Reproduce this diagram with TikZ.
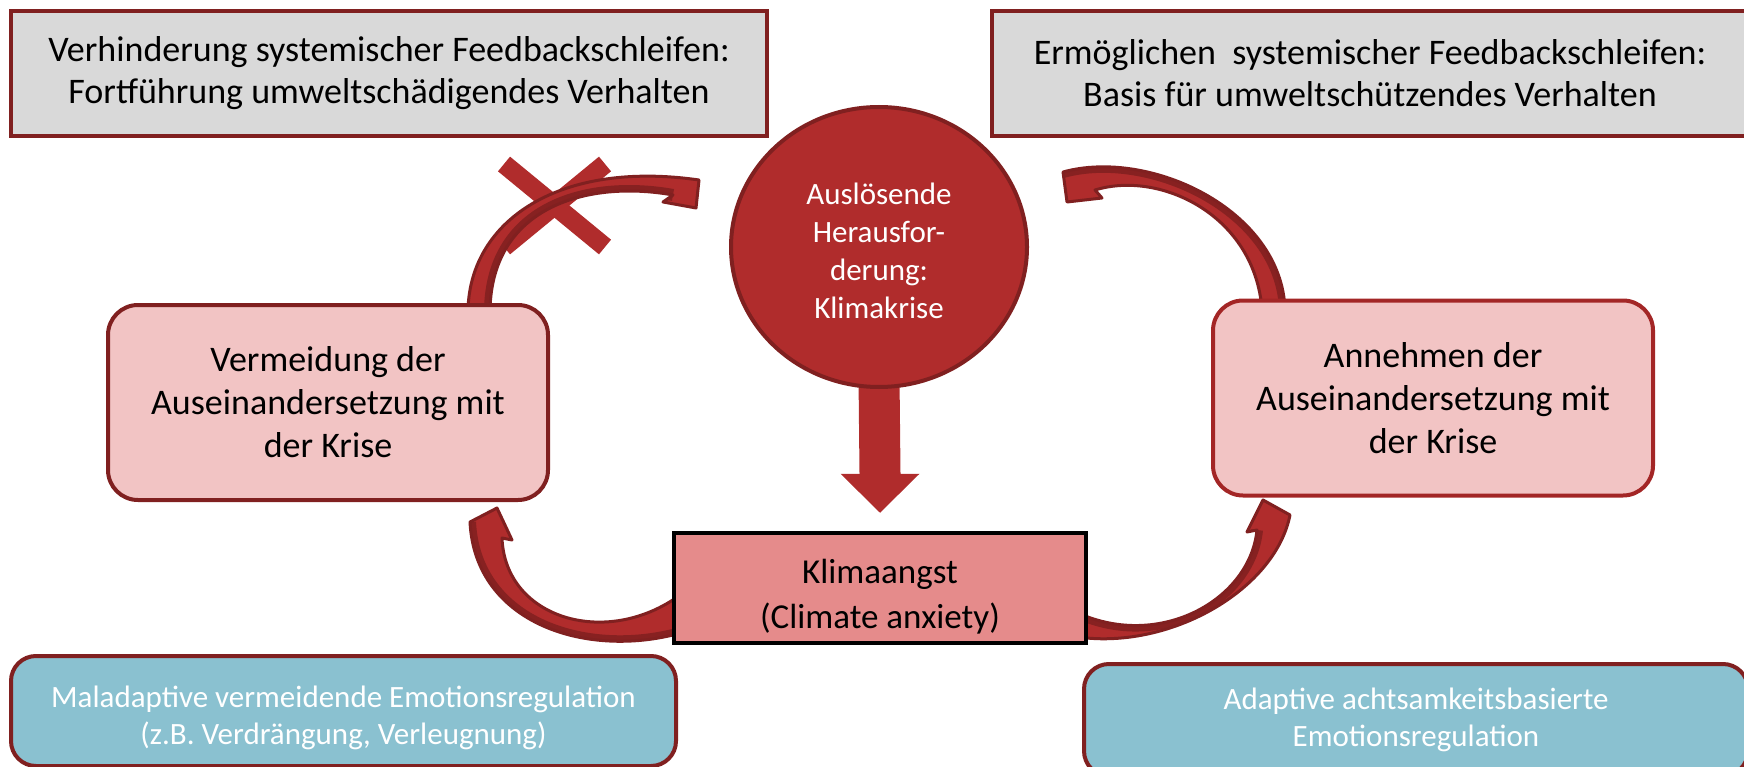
\documentclass[tikz,border=0pt]{standalone}
\usepackage{fontspec}
\setmainfont{Carlito}
\usetikzlibrary{shapes.geometric,calc}
\definecolor{brd}{RGB}{128,32,32}
\definecolor{brdb}{RGB}{163,38,38}
\definecolor{grayf}{RGB}{217,217,217}
\definecolor{redc}{RGB}{176,44,44}
\definecolor{redd}{RGB}{135,33,33}
\definecolor{pinkf}{RGB}{242,196,196}
\definecolor{kaf}{RGB}{229,139,139}
\definecolor{bluef}{RGB}{138,193,208}
\pgfdeclarelayer{bg}
\pgfsetlayers{bg,main}
\newcommand{\arrA}{(468,310) .. controls (470,220) and (560,160) .. (a1o) -- (a1t) -- (a1i) -- (a1n) .. controls (590,180) and (492,205) .. (490,310) -- cycle}
\newcommand{\arrB}{(a2o) .. controls (1150,148) and (1282,210) .. (1285,310) -- (1262,310) .. controls (1255,215) and (1160,170) .. (a2n) -- (a2i) -- (a2t) -- cycle}
\newcommand{\arrC}{(684,632) .. controls (590,660) and (475,625) .. (a3o) -- (a3t) -- (a3i) -- (a3n) .. controls (505,620) and (610,650) .. (684,592) -- cycle}
\newcommand{\arrD}{(1078,637) .. controls (1170,650) and (1275,590) .. (a4o) -- (a4t) -- (a4i) -- (a4n) .. controls (1250,600) and (1160,650) .. (1078,613) -- cycle}
\begin{document}
\begin{tikzpicture}[x=1pt,y=-1pt,
  graybox/.style={draw=brd, line width=4pt, fill=grayf, minimum width=756pt, minimum height=125pt, inner sep=0pt, align=center, font=\fontsize{36}{42}\selectfont},
  pinkbox/.style={draw=brd, line width=4pt, fill=pinkf, rounded corners=30pt, minimum width=440pt, minimum height=195pt, inner sep=0pt, align=center, font=\fontsize{36}{43}\selectfont},
  kabox/.style={draw=black, line width=4.5pt, fill=kaf, minimum width=412pt, minimum height=110pt, inner sep=0pt, align=center, font=\fontsize{35}{45}\selectfont},
  bluebox/.style={draw=brd, line width=4pt, fill=bluef, rounded corners=25pt, inner sep=0pt, align=center, text=white, font=\fontsize{31}{37}\selectfont},
  circnode/.style={ellipse, draw=brd, line width=4pt, fill=redc, minimum width=296pt, minimum height=280pt, inner sep=0pt, align=center, text=white, font=\fontsize{31}{38}\selectfont},
  arrfill/.style={fill=redc},
  arrline/.style={draw=brd, line width=3pt, line join=round},
  crossbar/.style={draw=redc, line width=19pt}
]
\useasboundingbox (0,0) rectangle (1744,767);

\node[graybox] (tl) at (389,73.5) {Verhinderung systemischer Feedbackschleifen:\\Fortführung umweltschädigendes Verhalten};
\node[graybox] (tr) at (1370,73.5) {Ermöglichen~ systemischer Feedbackschleifen:\\Basis für umweltschützendes Verhalten};
\node[circnode] (cc) at (879,247) {\rule{0pt}{29pt}Auslösende\\Herausfor-\\derung:\\Klimakrise};
\node[pinkbox] (vl) at (328,402.5) {Vermeidung der\\Auseinandersetzung mit\\der Krise};
\node[pinkbox, draw=brdb] (vr) at (1433,398) {Annehmen der\\Auseinandersetzung mit\\der Krise};
\node[kabox] (ka) at (880,588) {\rule{0pt}{42pt}Klimaangst\\(Climate anxiety)};
\node[bluebox, minimum width=665pt, minimum height=110pt] (bl) at (343.5,711) {\rule{0pt}{35pt}Maladaptive vermeidende Emotionsregulation\\(z.B. Verdrängung, Verleugnung)};
\node[bluebox, minimum width=664pt, minimum height=112pt] (br) at (1416,720) {Adaptive achtsamkeitsbasierte\\Emotionsregulation};

% arrow head coordinates
\coordinate (a1o) at (699,180); \coordinate (a1t) at (696,208); \coordinate (a1i) at (663,202); \coordinate (a1n) at (673,195);
\coordinate (a2o) at (1063,172); \coordinate (a2t) at (1067,202); \coordinate (a2i) at (1102,198); \coordinate (a2n) at (1095,190);
\coordinate (a3o) at (470,522); \coordinate (a3t) at (497,508); \coordinate (a3i) at (512,540); \coordinate (a3n) at (502,538);
\coordinate (a4o) at (1290,515); \coordinate (a4t) at (1263,500); \coordinate (a4i) at (1247,532); \coordinate (a4n) at (1257,530);

\begin{pgfonlayer}{bg}
  % down arrow from circle to Klimaangst
  \fill[redc] ($(cc.south)+(-20.5,-12)$) -- ($(ka.north)+(-20.5,-57)$) -- ($(ka.north)+(-39.5,-57)$) -- ($(ka.north)+(0,-18)$) -- ($(ka.north)+(39.5,-57)$) -- ($(ka.north)+(20.5,-57)$) -- ($(cc.south)+(20.5,-12)$) -- cycle;
  % cross
  \draw[crossbar] (504,164) -- (605,247);
  \draw[crossbar] (605,164) -- (504,247);
  % curved arrows
  \fill[arrfill] \arrA;
  \begin{scope}\clip \arrA; \draw[redd, line width=12pt] (673,195) .. controls (590,180) and (492,205) .. (490,310); \end{scope}
  \draw[arrline] \arrA;
  \fill[arrfill] \arrB;
  \begin{scope}\clip \arrB; \draw[redd, line width=12pt] (1063,172) .. controls (1150,148) and (1282,210) .. (1285,310); \end{scope}
  \draw[arrline] \arrB;
  \fill[arrfill] \arrC;
  \begin{scope}\clip \arrC; \draw[redd, line width=12pt] (684,632) .. controls (590,660) and (475,625) .. (470,522); \end{scope}
  \draw[arrline] \arrC;
  \fill[arrfill] \arrD;
  \begin{scope}\clip \arrD; \draw[redd, line width=12pt] (1257,530) .. controls (1250,600) and (1160,650) .. (1078,613); \end{scope}
  \draw[arrline] \arrD;
\end{pgfonlayer}
\end{tikzpicture}
\end{document}
